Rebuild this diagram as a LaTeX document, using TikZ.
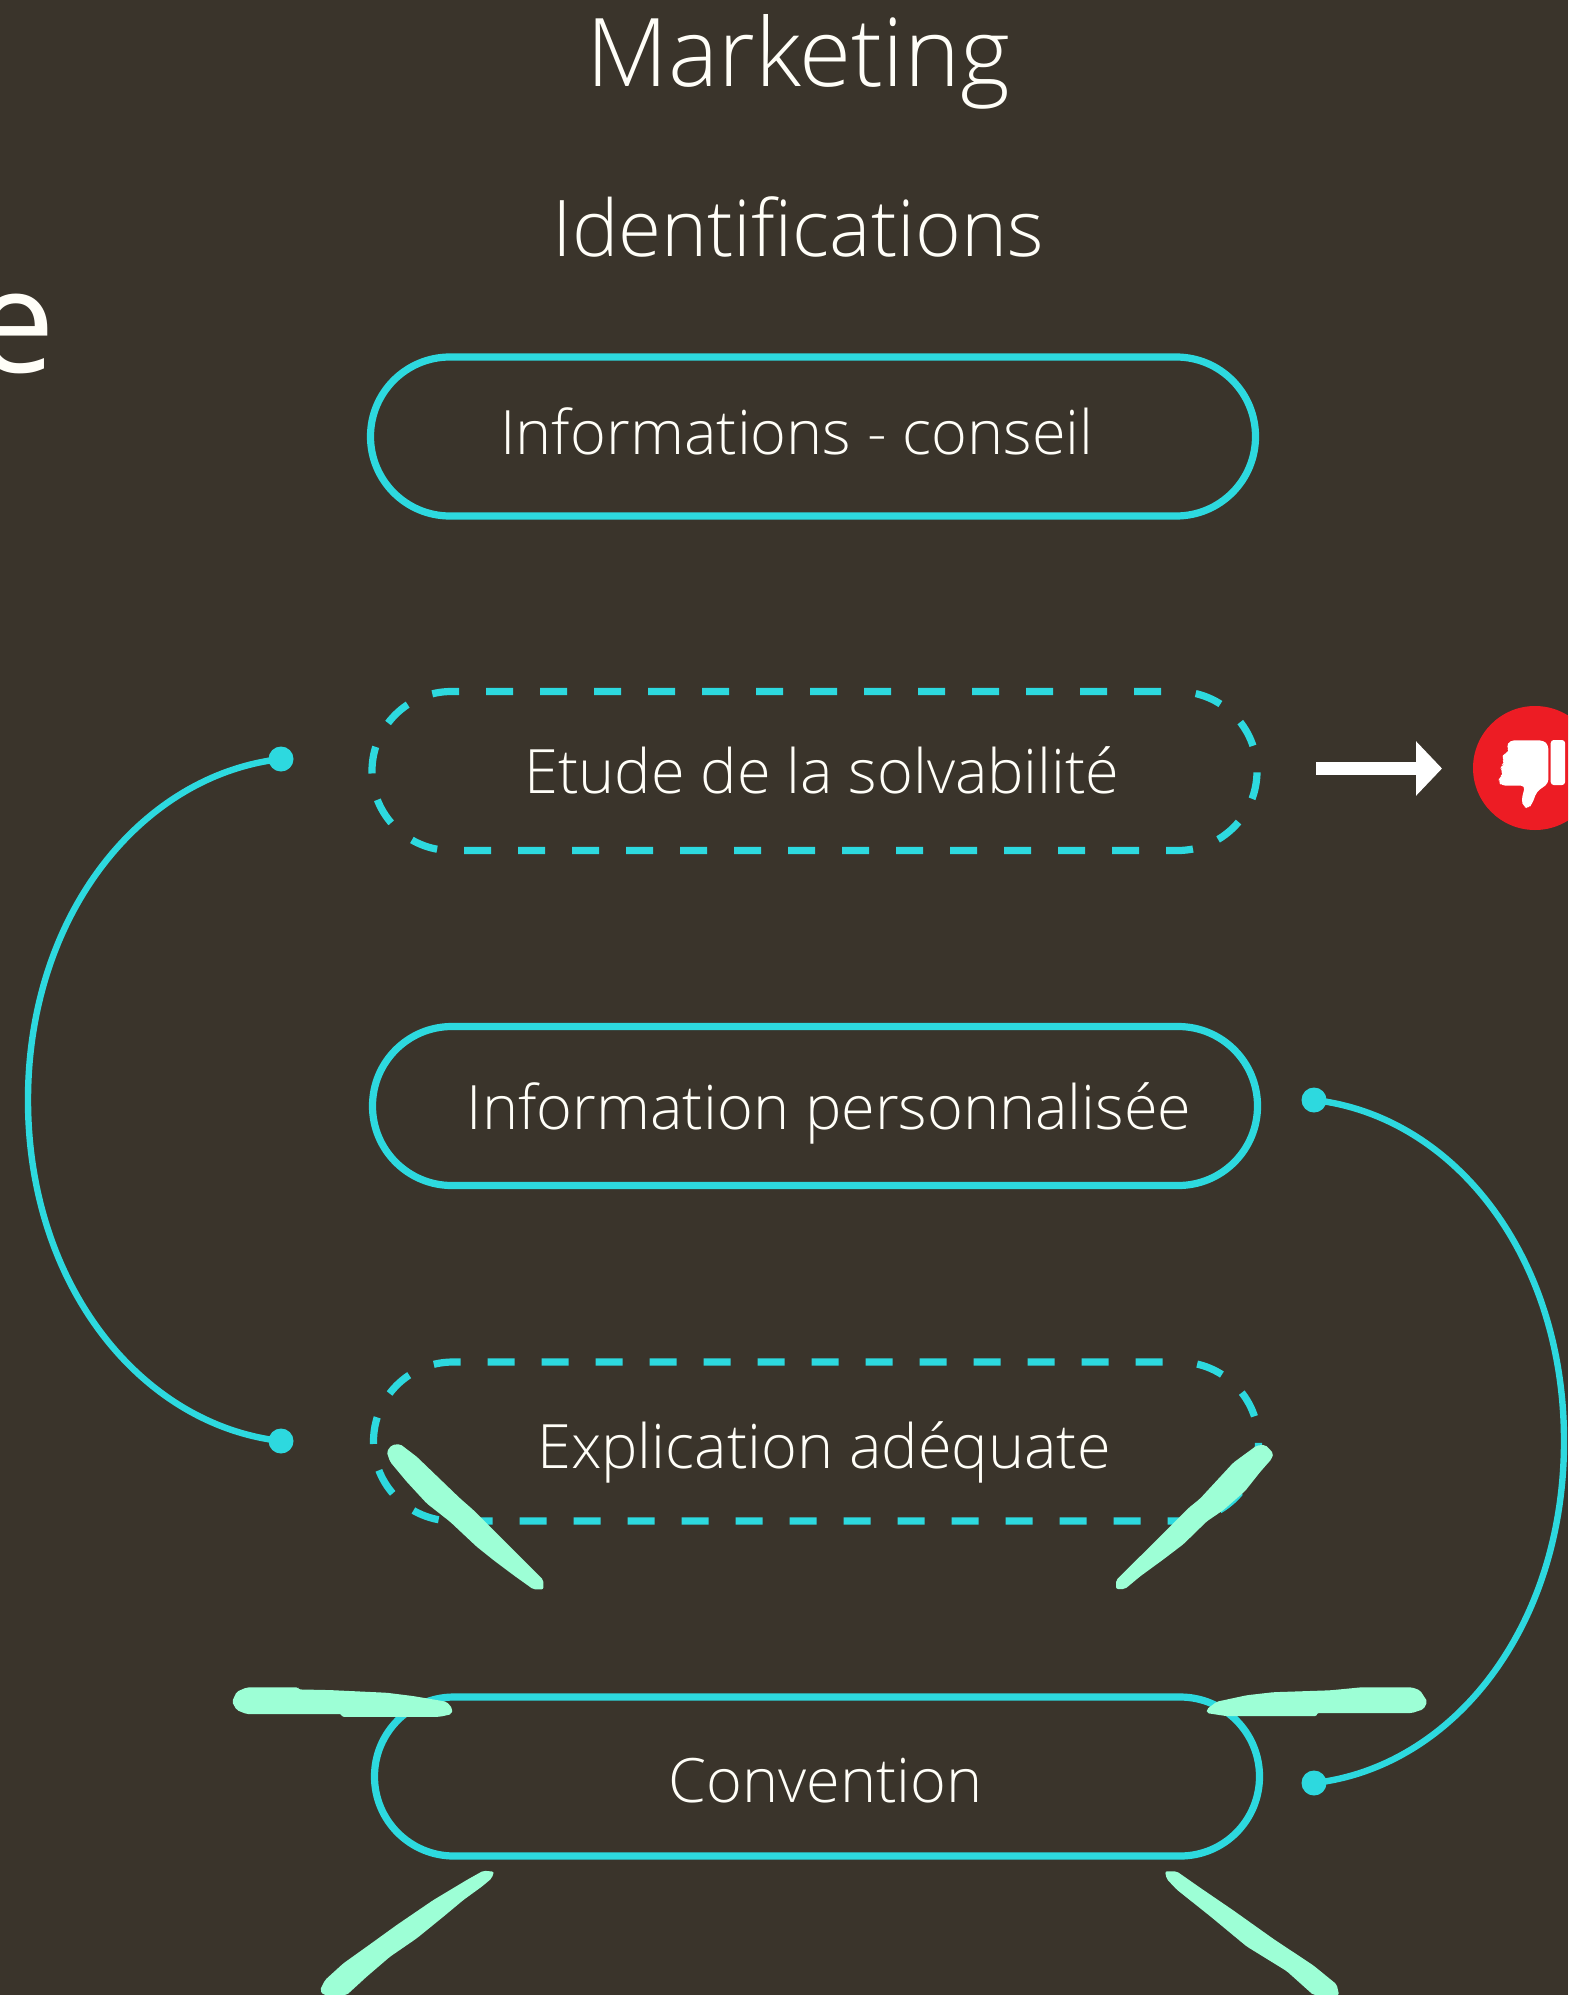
\documentclass[tikz,border=0pt]{standalone}
\usepackage{fontspec}
\setmainfont{Open Sans Light}
\newfontfamily\regfont{Open Sans}
\usetikzlibrary{arrows.meta}
\definecolor{bgc}{HTML}{3A342B}
\definecolor{cyanc}{HTML}{2DD9DF}
\definecolor{mintc}{HTML}{9DFFD6}
\definecolor{redc}{HTML}{ED1C24}
\definecolor{txtc}{HTML}{FFFEF8}
\tikzset{
 pill/.style={draw=cyanc,line width=3.6pt,minimum width=442.5pt,minimum height=79.5pt,rounded corners=39.7pt,inner sep=0pt},
 pilldash/.style={pill,dash pattern=on 13.5pt off 13.5pt,dash phase=18.75pt},
 lbl/.style={anchor=base,text=txtc,font=\fontsize{30.6pt}{36pt}\selectfont,inner sep=0pt},
 ttl/.style={anchor=base,text=txtc,inner sep=0pt},
 dot/.style={circle,fill=cyanc,minimum size=12.5pt,inner sep=0pt},
 link/.style={draw=cyanc,line width=3.2pt},
 brush/.style={fill=mintc,draw=none,rounded corners=1pt},
}
\begin{document}
\begin{tikzpicture}[x=0.5pt,y=-0.5pt]
\useasboundingbox (0,0) rectangle (1568,1995);
\fill[bgc] (0,0) rectangle (1568,1995);
\clip (0,0) rectangle (1568,1995);
\node[ttl,font=\fontsize{47.4pt}{57pt}\selectfont] (t1) at (798,87) {Marketing};
\node[ttl,font=\fontsize{39.1pt}{47pt}\selectfont] (t2) at (798,257) {Identifications};
\node[ttl,anchor=base east,font=\regfont\fontsize{72pt}{84pt}\selectfont] (t3) at (56,372) {e};
\node[pill] (b1) at (813,436.5) {};
\node[pilldash] (b2) at (814.5,771) {};
\node[pill] (b3) at (815,1106) {};
\node[pilldash] (b4) at (816,1441.5) {};
\node[pill] (b5) at (817,1776.5) {};
\node[lbl] (l1) at (797,454.5) {Informations - conseil};
\node[lbl] (l2) at (822,793.5) {Etude de la solvabilité};
\node[lbl] (l3) at (829,1129.5) {Information personnalisée};
\node[lbl] (l4) at (824,1468.5) {Explication adéquate};
\node[lbl] (l5) at (825.5,1802.5) {Convention};
\node[dot] (d1) at (281,759) {};
\node[dot] (d2) at (281,1441) {};
\node[dot] (d3) at (1314,1100) {};
\node[dot] (d4) at (1314,1783) {};
\draw[link] (d1.center) .. controls (141,775) and (28,915) .. (28,1100) .. controls (28,1285) and (141,1425) .. (d2.center);
\draw[link] (d3.center) .. controls (1454,1116) and (1564,1256) .. (1564,1441) .. controls (1564,1626) and (1454,1767) .. (d4.center);
\coordinate (a1) at (1316,768.5);
\coordinate (a2) at (1442,768.5);
\draw[draw=white,line width=6.8pt,-{Triangle[length=13pt,width=26.5pt,fill=white]}] (a1) -- (a2);
\node[circle,fill=redc,minimum size=62pt,inner sep=0pt] (no) at (1535,768) {};
\begin{scope}[shift={(1280,670)},x=0.1667pt,y=-0.1667pt]
\fill[white,rounded corners=1.5pt] (812,210) rectangle (855,345);
\fill[white,rounded corners=2pt] (690,211) -- (790,211) -- (805,225) -- (805,340) -- (770,365) -- (757,400) -- (745,416) -- (730,410) -- (724,390) -- (735,347) -- (665,347) -- (655,335) -- (658,320) -- (672,313) -- (660,300) -- (665,285) -- (675,280) -- (665,265) -- (672,249) -- (690,245) -- (678,230) -- cycle;
\end{scope}
\begin{scope}[shift={(220,1340)},x=0.1667pt,y=-0.1667pt]
\fill[brush] (500,335)--(515,315)--(540,312)--(590,350)--(720,475)--(760,510)--(850,600)--(970,720)--(970,748)--(940,748)--(880,705)--(820,660)--(770,620)--(690,545)--(620,490)--(560,425)--(510,365)--cycle;
\fill[brush] (36,1085)--(50,1055)--(80,1042)--(235,1042)--(235,1048)--(330,1050)--(500,1058)--(580,1068)--(680,1085)--(697,1105)--(695,1122)--(660,1130)--(365,1130)--(365,1122)--(80,1122)--(50,1110)--cycle;
\end{scope}
\begin{scope}[shift={(1100,1400)},x=0.1667pt,y=-0.18975pt]
\fill[brush] (48,475)--(180,360)--(265,285)--(300,260)--(400,165)--(470,120)--(495,118)--(520,140)--(515,155)--(480,190)--(435,240)--(370,290)--(320,320)--(250,380)--(190,420)--(120,465)--(75,498)--(48,498)--cycle;
\fill[brush] (320,815)--(350,795)--(440,778)--(520,770)--(690,765)--(785,757)--(935,757)--(960,765)--(982,795)--(970,815)--(935,825)--(650,825)--(650,833)--(380,833)--(320,825)--cycle;
\fill[brush] (195,1242)--(230,1242)--(300,1285)--(400,1345)--(520,1420)--(640,1490)--(710,1540)--(717,1568)--(640,1568)--(560,1505)--(440,1440)--(330,1360)--(230,1290)--(200,1262)--cycle;
\end{scope}
\begin{scope}[shift={(300,1850)},x=0.1667pt,y=-0.1667pt]
\fill[brush] (582,65)--(575,85)--(545,110)--(490,150)--(430,200)--(350,265)--(270,320)--(200,380)--(140,435)--(70,435)--(60,420)--(75,390)--(130,340)--(200,290)--(290,225)--(400,150)--(500,90)--(550,62)--cycle;
\end{scope}
\end{tikzpicture}
\end{document}
